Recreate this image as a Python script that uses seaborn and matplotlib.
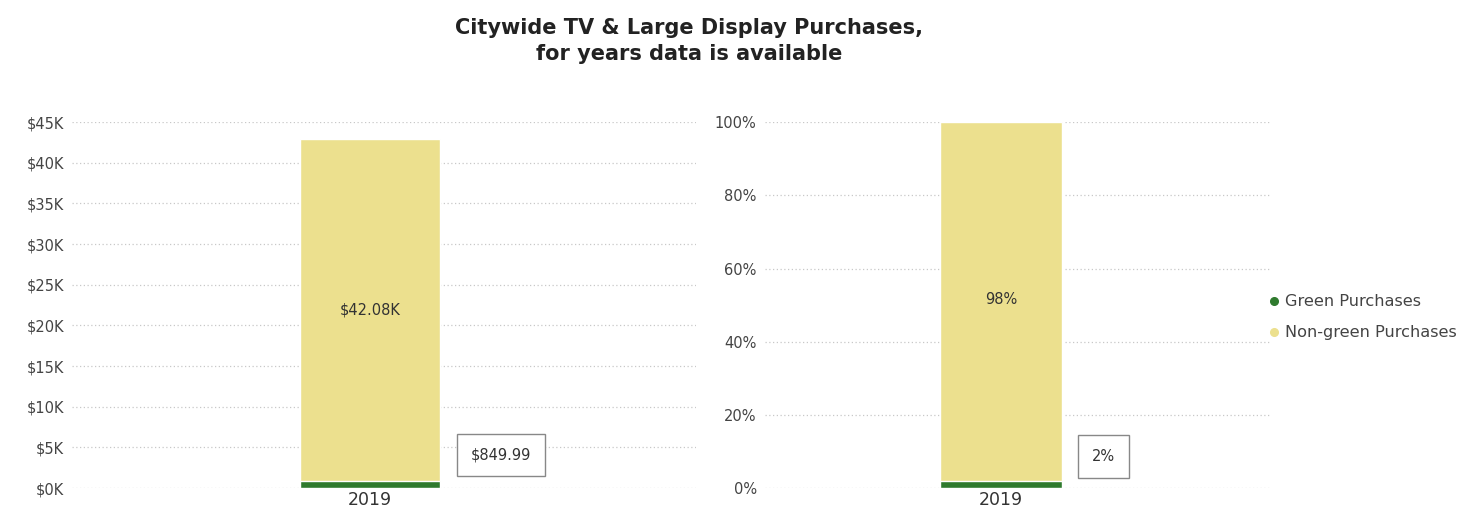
import pandas as pd
import matplotlib.pyplot as plt
import seaborn as sns
from matplotlib.lines import Line2D
from matplotlib.ticker import FuncFormatter, MultipleLocator

# data
years = ['2019']
green_values = [849.99]
nongreen_values = [42080.0]
green_pct = [2]
nongreen_pct = [98]

GREEN = '#2f7a2e'
YELLOW = '#ece08e'

sns.set_theme(style='white')
plt.rcParams['font.family'] = ['DejaVu Sans']

df = pd.DataFrame({
    'year': years,
    'green': green_values,
    'nongreen': nongreen_values,
    'green_pct': green_pct,
    'nongreen_pct': nongreen_pct,
})
df['total'] = df['green'] + df['nongreen']
df['total_pct'] = df['green_pct'] + df['nongreen_pct']

fig = plt.figure(figsize=(14.74, 5.22), dpi=100)
ax1 = fig.add_axes([0.049, 0.065, 0.423, 0.701])
ax2 = fig.add_axes([0.519, 0.065, 0.343, 0.701])


def style_axis(ax):
    for s in ax.spines.values():
        s.set_visible(False)
    ax.grid(axis='y', color='#c8c8c8', linestyle=(0, (1, 2)), linewidth=0.9)
    ax.set_axisbelow(True)
    ax.set_xlabel('')
    ax.set_ylabel('')
    ax.tick_params(axis='y', labelsize=10.5, colors='#444444', length=0, pad=6)
    ax.tick_params(axis='x', labelsize=12.5, colors='#333333', length=0, pad=2)


box = dict(boxstyle='square,pad=0.95', fc='white', ec='#888888', lw=1)

# left: dollar amounts, stacked
sns.barplot(data=df, x='year', y='total', color=YELLOW, width=0.224,
            saturation=1, ax=ax1)
sns.barplot(data=df, x='year', y='green', color=GREEN, width=0.224,
            saturation=1, ax=ax1)
ax1.set_xlim(-0.478, 0.522)
ax1.set_ylim(0, 45000)
ax1.yaxis.set_major_locator(MultipleLocator(5000))
ax1.yaxis.set_major_formatter(FuncFormatter(lambda v, p: f'${v/1000:.0f}K'))
style_axis(ax1)
for i, row in df.iterrows():
    ax1.text(i, row['green'] + row['nongreen'] / 2, f"${row['nongreen']/1000:.2f}K",
             ha='center', va='center', fontsize=10.5, color='#333333')
    ax1.annotate(f"${row['green']:,.2f}", xy=(i + 0.161, row['green'] + 3200),
                 ha='left', va='center', fontsize=10.5, color='#333333', bbox=box)

# right: percent share, stacked
sns.barplot(data=df, x='year', y='total_pct', color=YELLOW, width=0.242,
            saturation=1, ax=ax2)
sns.barplot(data=df, x='year', y='green_pct', color=GREEN, width=0.242,
            saturation=1, ax=ax2)
ax2.set_xlim(-0.467, 0.533)
ax2.set_ylim(0, 100)
ax2.yaxis.set_major_locator(MultipleLocator(20))
ax2.yaxis.set_major_formatter(FuncFormatter(lambda v, p: f'{v:.0f}%'))
style_axis(ax2)
for i, row in df.iterrows():
    ax2.text(i, row['green_pct'] + row['nongreen_pct'] / 2 + 0.5, f"{row['nongreen_pct']}%",
             ha='center', va='center', fontsize=10.5, color='#333333')
    ax2.annotate(f"{row['green_pct']}%", xy=(i + 0.180, row['green_pct'] + 6.7),
                 ha='left', va='center', fontsize=10.5, color='#333333', bbox=box)

handles = [
    Line2D([], [], marker='o', linestyle='', color=GREEN, markersize=5.5),
    Line2D([], [], marker='o', linestyle='', color=YELLOW, markersize=5.5),
]
fig.legend(handles, ['Green Purchases', 'Non-green Purchases'],
           loc='center left', bbox_to_anchor=(0.85, 0.392), frameon=False,
           fontsize=11.6, handlelength=0.8, handletextpad=0.3, labelspacing=1.0,
           labelcolor='#444444')

fig.text(0.4675, 0.966, 'Citywide TV & Large Display Purchases,\nfor years data is available',
         ha='center', va='top', fontsize=15, fontweight='bold', color='#222222',
         linespacing=1.4)

fig.savefig('out.png', dpi=100)
plt.close(fig)
